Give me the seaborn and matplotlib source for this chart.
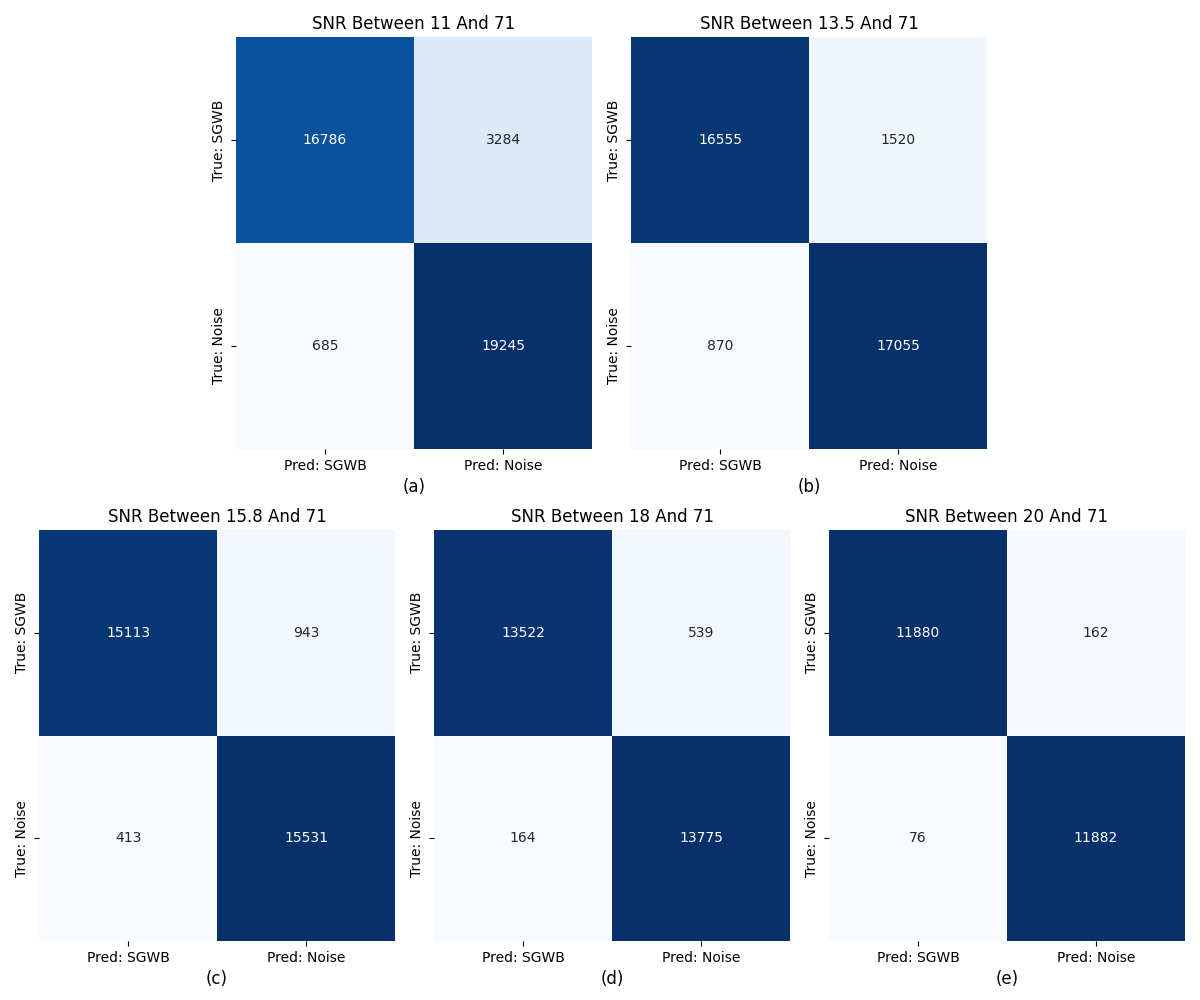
import numpy as np
import matplotlib
matplotlib.use("Agg")
import matplotlib.pyplot as plt
import seaborn as sns

# Confusion matrices for each SNR range
titles = ["SNR Between 11 And 71", "SNR Between 13.5 And 71",
          "SNR Between 15.8 And 71", "SNR Between 18 And 71",
          "SNR Between 20 And 71"]
panel_tags = ["(a)", "(b)", "(c)", "(d)", "(e)"]
x_labels = ["Pred: SGWB", "Pred: Noise"]
y_labels = ["True: SGWB", "True: Noise"]

cm_a = [[16786, 3284], [685, 19245]]
cm_b = [[16555, 1520], [870, 17055]]
cm_c = [[15113, 943], [413, 15531]]
cm_d = [[13522, 539], [164, 13775]]
cm_e = [[11880, 162], [76, 11882]]
matrices = [cm_a, cm_b, cm_c, cm_d, cm_e]

fig = plt.figure(figsize=(12, 10), dpi=100)

# axes boxes in figure fractions: left, bottom, width, height
boxes = [
    [0.1967, 0.551, 0.2967, 0.412],
    [0.5258, 0.551, 0.2967, 0.412],
    [0.0325, 0.059, 0.2967, 0.411],
    [0.3617, 0.059, 0.2967, 0.411],
    [0.6908, 0.059, 0.2967, 0.411],
]

for box, cm, title, tag in zip(boxes, matrices, titles, panel_tags):
    ax = fig.add_axes(box)
    sns.heatmap(np.array(cm), annot=True, fmt="d", cmap="Blues", cbar=False,
                xticklabels=x_labels, yticklabels=y_labels, ax=ax,
                annot_kws={"size": 10})
    ax.set_title(title, fontsize=12)
    ax.set_xlabel(tag, fontsize=12)
    ax.set_yticklabels(y_labels, rotation=90, va="center")
    ax.set_xticklabels(x_labels, rotation=0)

fig.savefig("out.png", dpi=100)
